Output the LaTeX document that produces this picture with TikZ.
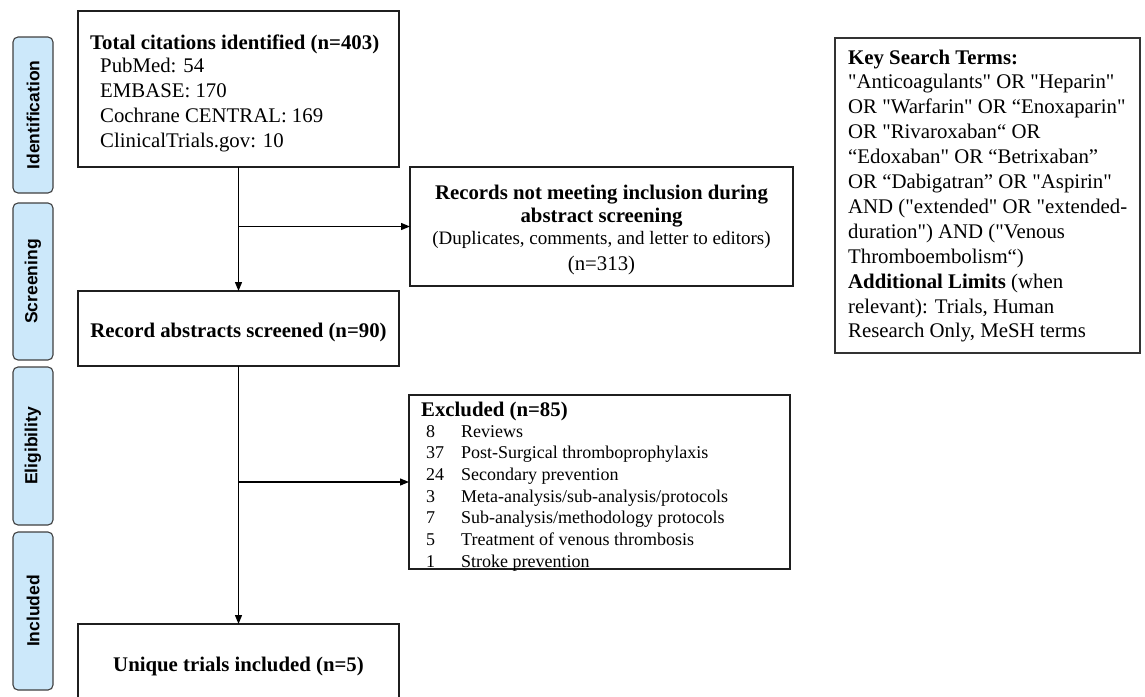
\documentclass[tikz,border=0pt]{standalone}
\usepackage{fontspec}
\setmainfont{Liberation Serif}[Ligatures=TeXOff]
\newfontfamily\tabfont{Liberation Sans}
\usetikzlibrary{arrows.meta}
\definecolor{tabblue}{HTML}{CCE8FA}
\begin{document}
\begin{tikzpicture}[x=1pt,y=-1pt,
  box/.style={draw=black!88, line width=1.4pt, fill=white, inner sep=0pt, outer sep=0pt},
  tabbox/.style={draw=black!75, fill=tabblue, rounded corners=5pt, line width=1.1pt,
     rotate=90, inner sep=0pt, font=\tabfont\bfseries\fontsize{17.5}{20}\selectfont},
  txt/.style={inner sep=0pt, anchor=base west, font=\fontsize{20.8}{24}\selectfont},
  ctxt/.style={inner sep=0pt, anchor=base, font=\fontsize{20.8}{24}\selectfont},
  small/.style={inner sep=0pt, anchor=base west, font=\fontsize{18}{21}\selectfont},
  arr/.style={-{Triangle[length=9pt,width=7pt]}, line width=1.2pt, black}]
\useasboundingbox (0,0) rectangle (1145,696);

% stage tabs
\node[tabbox, minimum width=156pt, minimum height=40pt] (tabI) at (33,115) {Identification};
\node[tabbox, minimum width=157pt, minimum height=40pt] (tabS) at (33,281.5) {Screening};
\node[tabbox, minimum width=158pt, minimum height=40pt] (tabE) at (33,446) {Eligibility};
\node[tabbox, minimum width=158pt, minimum height=40pt] (tabN) at (33,611) {Included};

% boxes
\node[box, minimum width=321pt, minimum height=156pt] (box1) at (238.5,89) {};
\node[box, minimum width=383pt, minimum height=119pt] (box2) at (601.5,226.5) {};
\node[box, minimum width=321pt, minimum height=75pt] (box3) at (238.5,328.5) {};
\node[box, minimum width=381pt, minimum height=174pt] (box4) at (599.5,482) {};
\node[box, minimum width=321pt, minimum height=80pt] (box5) at (238.5,664) {};
\node[box, minimum width=305pt, minimum height=315pt, draw=black!80, line width=1.2pt] (key) at (987.5,195.5) {};

% box1 text
\node[txt] (t1a) at (90,49) {\textbf{Total citations identified (n=403)}};
\node[txt] (t1b) at (100,72) {PubMed: 54};
\node[txt] (t1c) at (100,97) {EMBASE: 170};
\node[txt] (t1d) at (100,122) {Cochrane CENTRAL: 169};
\node[txt] (t1e) at (100,147) {ClinicalTrials.gov: 10};

% box2 text
\node[ctxt] (t2a) at (601.5,199) {\textbf{Records not meeting inclusion during}};
\node[ctxt] (t2b) at (601.5,222) {\textbf{abstract screening}};
\node[ctxt, font=\fontsize{19}{22}\selectfont] (t2c) at (601.5,244) {(Duplicates, comments, and letter to editors)};
\node[ctxt] (t2d) at (601.5,270) {(n=313)};

% box3, box5 text
\node[ctxt] (t3) at (238.5,337) {\textbf{Record abstracts screened (n=90)}};
\node[ctxt] (t5) at (238.5,671) {\textbf{Unique trials included (n=5)}};

% box4 text
\node[txt] (t4) at (421,416) {\textbf{Excluded (n=85)}};
\foreach \n/\lab [count=\i] in {8/Reviews, 37/Post-Surgical thromboprophylaxis, 24/Secondary prevention,
   3/Meta-analysis\slash sub-analysis\slash protocols, 7/Sub-analysis\slash methodology protocols,
   5/Treatment of venous thrombosis, 1/Stroke prevention}{
  \node[small] (n\i) at (426,{437+21.7*(\i-1)}) {\n};
  \node[small] (e\i) at (461,{437+21.7*(\i-1)}) {\lab};
}

% key search terms
\node[txt] (k1) at (848,64) {\textbf{Key Search Terms:}};
\node[txt] (k2) at (848,88.9) {"Anticoagulants" OR "Heparin"};
\node[txt] (k3) at (848,113.8) {OR "Warfarin" OR “Enoxaparin"};
\node[txt] (k4) at (848,138.7) {OR "Rivaroxaban“ OR};
\node[txt] (k5) at (848,163.6) {“Edoxaban" OR “Betrixaban”};
\node[txt] (k6) at (848,188.5) {OR “Dabigatran” OR "Aspirin"};
\node[txt] (k7) at (848,213.4) {AND ("extended" OR "extended-};
\node[txt] (k8) at (848,238.3) {duration") AND ("Venous};
\node[txt] (k9) at (848,263.2) {Thromboembolism“)};
\node[txt] (k10) at (848,288.1) {\textbf{Additional Limits} (when};
\node[txt] (k11) at (848,313) {relevant): Trials, Human};
\node[txt] (k12) at (848,337.9) {Research Only, MeSH terms};

% connectors
\coordinate (b1) at (238.5,226.5);
\coordinate (b2) at (238.5,482);
\draw[arr] (box1.south) -- (box3.north);
\draw[arr] (b1) -- (box2.west);
\draw[arr] (box3.south) -- (box5.north);
\draw[arr] (b2) -- (box4.west);
\end{tikzpicture}
\end{document}
